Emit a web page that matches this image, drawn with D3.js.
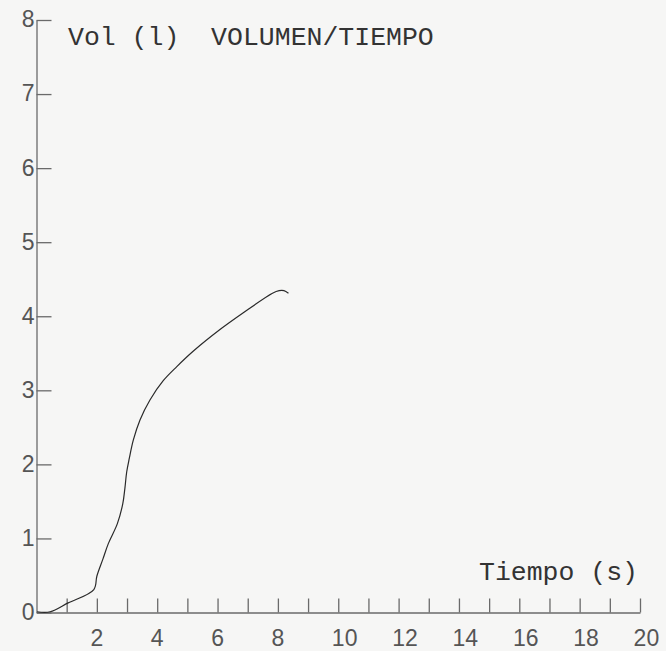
<!DOCTYPE html>
<html>
<head>
<meta charset="utf-8">
<script src="https://cdn.jsdelivr.net/npm/d3@7"></script>
<style>
  html, body { margin: 0; padding: 0; background: #f6f6f5; }
  svg { display: block; }
</style>
</head>
<body>
<svg id="chart" width="666" height="651"></svg>
<script>
// Time (s) of each traced point of the volume/time curve
const timeValues = [0.02, 0.45, 1.05, 1.9, 2.0, 2.2, 2.38, 2.68, 2.86, 2.93, 2.99, 3.075, 3.21, 3.43, 3.76, 4.2, 4.65, 5.2, 6.08, 6.83, 7.82, 8.04, 8.2, 8.35];
// Volume (l) at each of those times
const volumeValues = [0.01, 0.01, 0.13, 0.31, 0.49, 0.72, 0.93, 1.2, 1.47, 1.68, 1.9, 2.08, 2.33, 2.6, 2.87, 3.13, 3.32, 3.53, 3.82, 4.04, 4.31, 4.345, 4.345, 4.31];
// Axis ticks
const yTicks = [0, 1, 2, 3, 4, 5, 6, 7, 8];
const xTicks = [0, 1, 2, 3, 4, 5, 6, 7, 8, 9, 10, 11, 12, 13, 14, 15, 16, 17, 18, 19, 20];
const xLabelTicks = [2, 4, 6, 8, 10, 12, 14, 16, 18, 20];
const titleText = "Vol (l)  VOLUMEN/TIEMPO";
const xTitleText = "Tiempo (s)";

const svg = d3.select("#chart");
const x = d3.scaleLinear().domain([0, 20]).range([36.5, 640]);
const y = d3.scaleLinear().domain([0, 8]).range([612.5, 20]);

const axisColor = "#6a6a6a";
const labelFont = "'Liberation Sans', Arial, sans-serif";
const monoFont = "'Liberation Mono', 'Courier New', monospace";

// Y axis: ticks pointing inward, labels left
const gy = svg.append("g").attr("transform", `translate(${x(0)},0)`)
  .call(d3.axisLeft(y).tickValues(yTicks).tickSizeInner(-15).tickSizeOuter(0).tickPadding(2).tickFormat(d3.format("d")));
gy.select(".domain").attr("stroke", axisColor).attr("stroke-width", 1.3);
gy.selectAll(".tick line").attr("stroke", axisColor).attr("stroke-width", 1.3);
gy.selectAll(".tick text")
  .attr("font-family", labelFont)
  .attr("font-size", 23).attr("fill", "#555").attr("dy", "0.3em");

// X axis: ticks pointing up, labels drawn separately
const gx = svg.append("g").attr("transform", `translate(0,${y(0)})`)
  .call(d3.axisBottom(x).tickValues(xTicks).tickSizeInner(-14).tickSizeOuter(0).tickFormat(""));
gx.select(".domain").attr("stroke", axisColor).attr("stroke-width", 1.3);
gx.selectAll(".tick line").attr("stroke", axisColor).attr("stroke-width", 1.3);
gx.selectAll(".tick").filter(d => d === 0).select("line").remove();

// X labels: first digit centred on its tick
svg.append("g").selectAll("text").data(xLabelTicks).join("text")
  .attr("x", d => x(d) - 6.4)
  .attr("y", 646)
  .attr("text-anchor", "start")
  .attr("font-family", labelFont)
  .attr("font-size", 23).attr("fill", "#555")
  .text(d => d);

// Curve
const line = d3.line().x(d => x(d[0])).y(d => y(d[1])).curve(d3.curveCatmullRom.alpha(0.5));
svg.append("path")
  .datum(d3.zip(timeValues, volumeValues))
  .attr("d", line)
  .attr("fill", "none")
  .attr("stroke", "#2a2a2a")
  .attr("stroke-width", 1.2)
  .attr("stroke-linejoin", "round");

// Titles (monospace, like the original plotter text)
svg.append("text")
  .attr("x", 68).attr("y", 45)
  .attr("font-family", monoFont)
  .attr("font-size", 26.5).attr("fill", "#333")
  .style("white-space", "pre")
  .text(titleText);

svg.append("text")
  .attr("x", 479).attr("y", 580)
  .attr("font-family", monoFont)
  .attr("font-size", 26.5).attr("fill", "#333")
  .style("white-space", "pre")
  .text(xTitleText);
</script>
</body>
</html>
